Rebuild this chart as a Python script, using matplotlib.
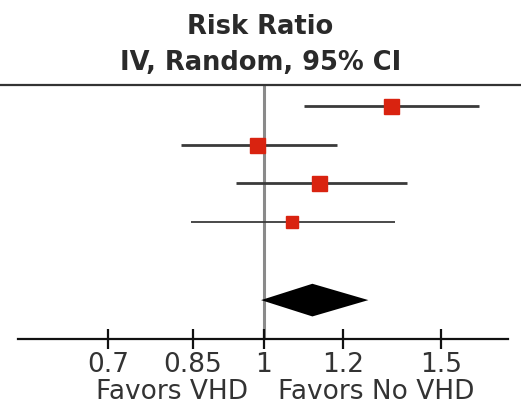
import matplotlib
matplotlib.use("Agg")
import matplotlib.pyplot as plt
import numpy as np

# study estimates (risk ratio, 95% CI)
rows = [1, 2, 3, 4]
rr = [1.338, 0.985, 1.136, 1.066]
lo = [1.097, 0.827, 0.938, 0.846]
hi = [1.639, 1.182, 1.388, 1.351]
weight = [10.8, 10.8, 10.8, 8.6]   # marker size
lw = [2.0, 2.0, 2.0, 1.3]

# pooled estimate (diamond)
pool_row = 6
pool_rr = 1.118
pool_lo = 0.994
pool_hi = 1.271

ticks = [0.7, 0.85, 1, 1.2, 1.5]
tick_labels = ["0.7", "0.85", "1", "1.2", "1.5"]

fig = plt.figure(figsize=(5.21, 4.08), dpi=100)
ax = fig.add_axes([0, 339 / 408 * 0 + (1 - 339 / 408), 1, (339 - 85) / 408])

ax.set_xscale("log")
ax.set_xlim(0.5466, 1.803)
ax.set_ylim(7.0, 0.47)

# no-effect line
ax.plot([1, 1], [7.0, 0.47], color="#8a8a8a", lw=2.2, zorder=1)

for y, m, l, h, s, w in zip(rows, rr, lo, hi, weight, lw):
    ax.plot([l, h], [y, y], color="#3a3a3a", lw=w, zorder=2, solid_capstyle="butt")
    ax.plot(m, y, marker="s", ms=s, color="#d92310", mec="#d92310", zorder=3)

ax.fill([pool_lo, pool_rr, pool_hi, pool_rr],
        [pool_row, pool_row - 0.42, pool_row, pool_row + 0.42],
        color="black", lw=0, zorder=3)

# spines: full-width top rule, bounded bottom axis
for side in ["left", "right"]:
    ax.spines[side].set_visible(False)
ax.spines["top"].set_color("#333333")
ax.spines["top"].set_linewidth(1.6)
ax.spines["bottom"].set_bounds(0.57, 1.75)
ax.spines["bottom"].set_linewidth(1.6)
ax.spines["bottom"].set_color("#111111")

ax.set_xticks(ticks)
ax.set_xticklabels(tick_labels)
ax.xaxis.set_minor_locator(matplotlib.ticker.NullLocator())
ax.tick_params(axis="x", direction="inout", length=15, width=1.6, color="#111111",
               labelsize=19, labelcolor="#333333", pad=2)
ax.set_yticks([])

fig.text(0.5, 1 - 27 / 408, "Risk Ratio", ha="center", va="center",
         fontsize=18.5, fontweight="bold", color="#2a2a2a")
fig.text(0.5, 1 - 63 / 408, "IV, Random, 95% CI", ha="center", va="center",
         fontsize=18.5, fontweight="bold", color="#2a2a2a")

fig.text(248 / 521, 1 - 392 / 408, "Favors VHD", ha="right", va="center",
         fontsize=19, color="#333333")
fig.text(278 / 521, 1 - 392 / 408, "Favors No VHD", ha="left", va="center",
         fontsize=19, color="#333333")

fig.savefig("out.png", dpi=100)
